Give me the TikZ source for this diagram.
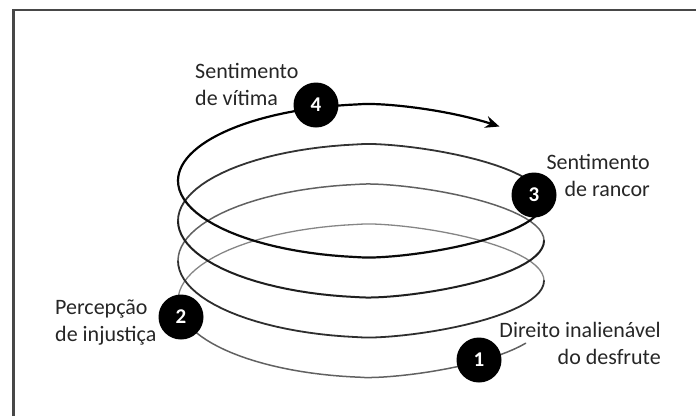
\documentclass[tikz,border=0pt]{standalone}
\usepackage{fontspec}
\setmainfont{Carlito}
\usetikzlibrary{arrows.meta}
% horizontal position of the coil: blunt on the left, sharper on the right
\def\coilx#1{361+183*((cos(#1)>0)*pow(abs(cos(#1))+0.00001,1.4)+(cos(#1)<=0)*cos(#1))}
% vertical position: an ellipse that climbs 40 units per turn
\def\coily#1{320.75+66.5*sin(#1)-(#1)/9}
\begin{document}
\begin{tikzpicture}[x=1pt,y=-1pt,
  stagebadge/.style={circle, fill=black, minimum size=45pt,
    inner sep=0pt, text=white, font=\fontsize{21}{21}\selectfont\bfseries},
  stagelabel/.style={font=\fontsize{22}{27}\selectfont, inner sep=0pt, text=black!85},
  coil/.style={line cap=round, line join=round}
]
\useasboundingbox (0,0) rectangle (696,416);
% frame
\draw[black!72, line width=2.6pt] (13.5,416) -- (13.5,10) -- (696,10);

% the coil, half a turn at a time, darker towards the top
\foreach \a/\b/\c/\w in {22/180/62/1.5, 180/360/48/1.3, 360/540/82/1.8, 540/720/62/1.5,
                          720/900/88/2.0, 900/1080/80/1.8, 1080/1260/96/2.2}{
  \draw[coil, black!\c, line width=\w pt]
    plot[domain=\a:\b, samples=50, variable=\s] ({\coilx{\s}}, {\coily{\s}});
}
\draw[coil, black, line width=2.2pt, -{Stealth[length=14pt,width=12pt]}]
  plot[domain=1260:1405, samples=50, variable=\s] ({\coilx{\s}}, {\coily{\s}});

% labels (anchored at the baseline of their last line)
\node[stagelabel, anchor=base west, align=left] (l4) at (195,105) {Sentimento\\de vítima};
\node[stagelabel, anchor=base east, align=right] (l3) at (650,196) {Sentimento\\de rancor};
\node[stagelabel, anchor=base east, align=right] (l1) at (661,364) {Direito inalienável\\do desfrute};
\node[stagelabel, anchor=base west, align=left] (l2) at (55,341) {Percepção\\de injustiça};

% stage badges
\node[stagebadge] (s1) at (479,360) {1};
\node[stagebadge] (s2) at (181,317) {2};
\node[stagebadge] (s3) at (534,195) {3};
\node[stagebadge] (s4) at (316,105) {4};
\end{tikzpicture}
\end{document}
